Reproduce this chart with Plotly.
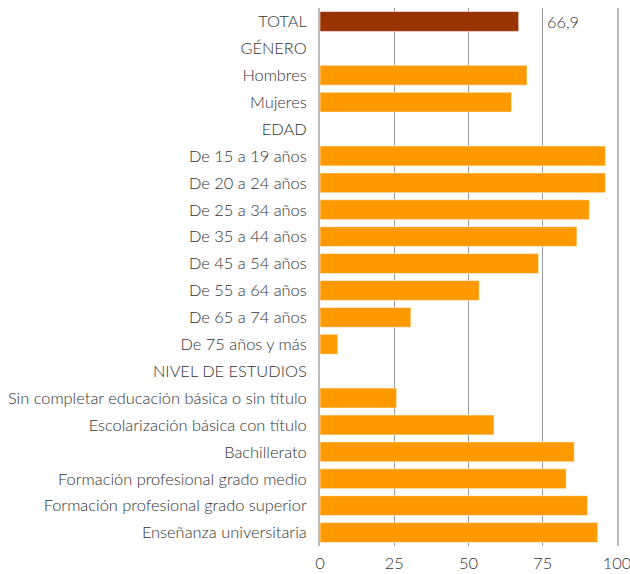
import plotly.graph_objects as go

categories = [
    "TOTAL", "GÉNERO", "Hombres", "Mujeres", "EDAD",
    "De 15 a 19 años", "De 20 a 24 años", "De 25 a 34 años", "De 35 a 44 años",
    "De 45 a 54 años", "De 55 a 64 años", "De 65 a 74 años", "De 75 años y más",
    "NIVEL DE ESTUDIOS",
    "Sin completar educación básica o sin título",
    "Escolarización básica con título",
    "Bachillerato",
    "Formación profesional grado medio",
    "Formación profesional grado superior",
    "Enseñanza universitaria",
]
values = [
    66.9, None, 69.7, 64.5, None,
    96.1, 96.1, 90.7, 86.5, 73.6, 53.6, 30.6, 6.0,
    None,
    25.8, 58.6, 85.6, 82.9, 90.1, 93.5,
]
total_label = "66,9"
x_ticks = [0, 25, 50, 75, 100]

colors = ["#993300" if c == "TOTAL" else "#FF9900" for c in categories]

FONT = "Lato"
TXT = dict(family=FONT, size=16.4, color="#333333", weight=300)

fig = go.Figure()
fig.add_trace(go.Bar(
    y=categories, x=values, orientation="h",
    marker=dict(color=colors, line=dict(color="rgba(255,255,255,0.55)", width=1)),
    width=0.74, showlegend=False, hoverinfo="x+y",
))

fig.add_annotation(x=75.8, y="TOTAL", text=total_label, showarrow=False,
                   xanchor="left", yanchor="middle", font=TXT)

fig.update_layout(
    width=630, height=574,
    margin=dict(l=320, r=13, t=8, b=28, autoexpand=False),
    plot_bgcolor="white", paper_bgcolor="white",
    font=TXT,
    bargap=0.26,
)
fig.update_xaxes(
    range=[0, 100], tickvals=x_ticks, showgrid=True, gridcolor="#999999",
    gridwidth=1, zeroline=False,
    tickfont=TXT, fixedrange=True, automargin=False,
    ticklabeloverflow="allow", ticklabelstandoff=6,
)
fig.update_yaxes(
    categoryorder="array", categoryarray=categories, autorange="reversed",
    showgrid=False, ticklabelstandoff=8, tickfont=TXT,
    showline=True, mirror=True, linecolor="#bbbbbb", linewidth=2,
    fixedrange=True, automargin=False,
)

# remove the default page margin so the figure fills the window exactly
fig.write_html("out.html", config={"displayModeBar": False},
               post_script="document.body.style.margin='0';")
